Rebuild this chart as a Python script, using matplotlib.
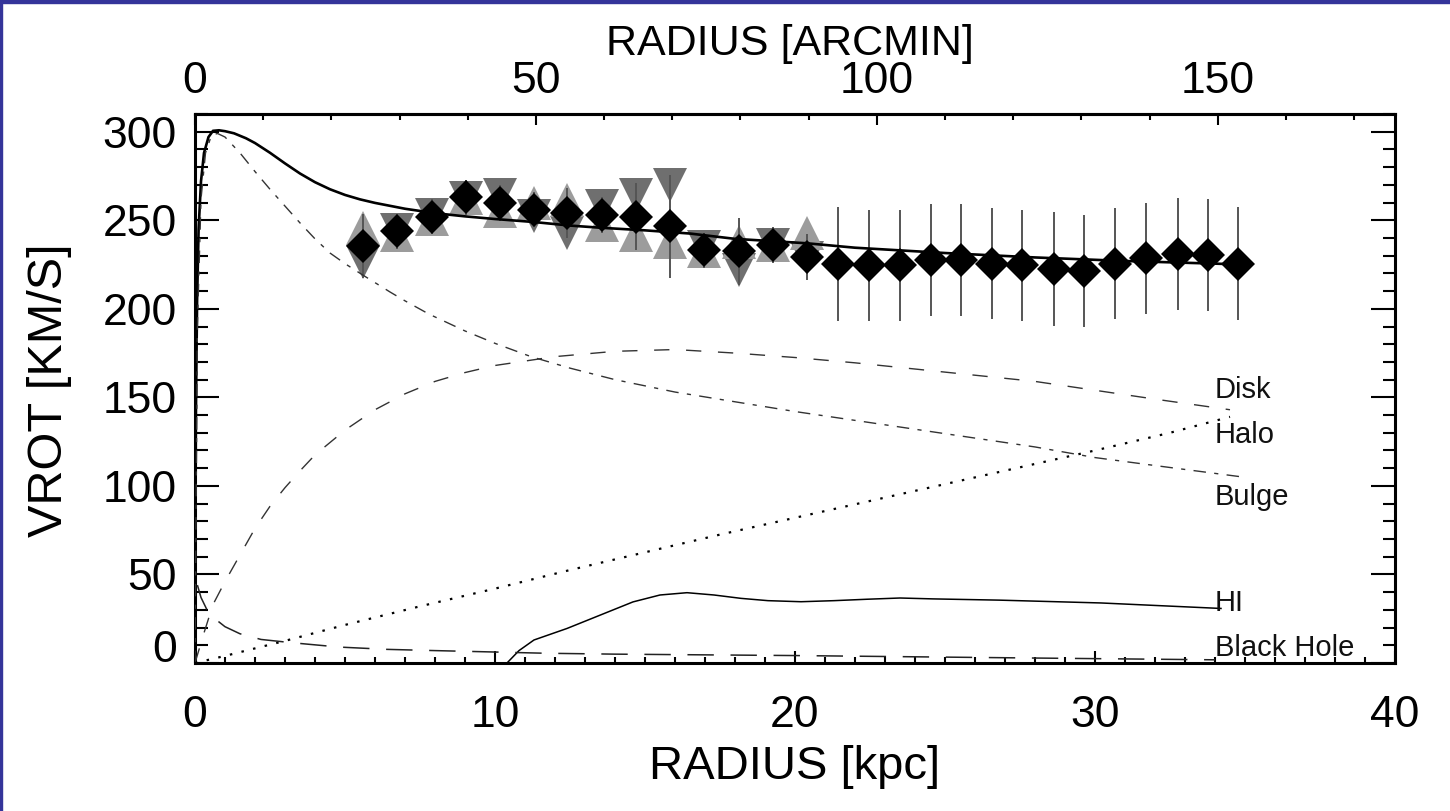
import matplotlib
matplotlib.use("Agg")
import matplotlib.pyplot as plt
from matplotlib.ticker import MultipleLocator, FixedLocator
from matplotlib.patches import Rectangle

plt.rcParams['font.family'] = ['Liberation Sans', 'DejaVu Sans']
plt.rcParams['lines.scale_dashes'] = False

# ---------------- data ----------------
# inner data points (diamonds) with two-sided measurements (triangles)
inner_r = [5.61, 6.74, 7.89, 9.03, 10.17, 11.30, 12.41, 13.56, 14.70, 15.83, 16.97, 18.13, 19.26, 20.39]
inner_v = [235.6, 243.7, 252.0, 263.0, 259.7, 256.0, 254.0, 253.0, 252.0, 246.5, 233.0, 232.4, 236.0, 229.5]
inner_err = [18, 10, 10, 10, 10, 10, 14, 10, 19, 29, 10, 19, 10, 13]
tri_down_v = [226.7, 244.6, 252.7, 262.5, 264.4, 252.2, 242.8, 257.8, 264.4, 269.7, 235.0, 221.9, 236.0, 228.6]
tri_up_v = [245.6, 241.8, 250.8, 262.5, 255.0, 259.7, 261.6, 247.4, 241.8, 238.0, 232.6, 237.9, 236.0, 242.8]

# outer data points
outer_r = [21.44, 22.46, 23.50, 24.53, 25.53, 26.56, 27.57, 28.62, 29.63, 30.68, 31.69, 32.75, 33.76, 34.78]
outer_v = [225.5, 224.5, 224.5, 227.5, 227.5, 225.5, 224.5, 222.5, 221.5, 225.5, 228.5, 231.0, 230.5, 225.5]
outer_err = [32.2, 31.2, 31.2, 31.7, 31.7, 31.2, 31.5, 32.4, 31.7, 31.5, 31.4, 31.5, 31.7, 31.9]

# model curves
tot_r = [0, 0.03, 0.07, 0.12, 0.2, 0.3, 0.45, 0.6, 0.8, 1.0, 1.3, 1.7, 2.0, 2.5, 3.0, 3.5, 4.0, 4.5,
         5.0, 5.5, 6.0, 7.0, 8.0, 9.0, 10.0, 11.3, 12.5, 13.5, 15.0, 16.5, 18.0, 20.4, 22.0, 25.0, 28.0,
         31.0, 35.0]
tot_v = [0, 140, 205, 245, 272, 288, 297, 300.5, 300.8, 300.3, 299.1, 296.3, 293.6, 288.1, 282.1, 276.4,
         271.5, 267.5, 264.3, 261.8, 259.8, 256.5, 254.0, 252.2, 250.7, 249, 247, 245.8, 244.3, 242.5,
         239.5, 237, 234.5, 231.5, 229, 227, 225]

bulge_r = [0, 0.08, 0.2, 0.35, 0.55, 0.75, 1.0, 1.5, 2.0, 2.5, 3.0, 3.5, 4.0, 4.5, 5.0, 5.6, 6.5, 7.0, 7.8,
           9.0, 10.0, 11.2, 12.5, 14, 16, 18, 20, 22, 24, 26, 28, 30, 32, 34.8]
bulge_v = [0, 190, 262, 288, 298, 299, 297, 288, 277.5, 267.5, 258, 248.5, 239.5, 231.5, 225.5, 219, 209.5,
           204.5, 197, 187.5, 180.5, 173, 166.5, 160, 153, 147.5, 142, 137, 132, 127, 122, 116, 111.5, 105.3]

disk_r = [0, 0.3, 0.6, 1.0, 1.5, 2.0, 2.5, 3.0, 3.5, 4, 5, 6, 7, 8, 9, 10, 12, 14, 16, 18, 20, 22, 24, 26,
          28, 30, 32, 34.5]
disk_v = [0, 17, 33, 46, 61, 76, 88.5, 99, 108.5, 117.5, 131.5, 143, 152, 159, 164, 168, 173, 176, 177, 175,
          172.5, 169.5, 166, 162.5, 159, 154, 149, 143]

halo_r = [0, 1, 3, 5, 7.5, 10, 12.5, 15, 17.5, 20, 22.5, 25, 27.5, 30, 32.5, 34.5]
halo_v = [0, 4, 12.5, 21.5, 32, 42, 52.5, 62.5, 72.5, 82, 91.5, 101, 110.5, 120, 130, 139]

hi_r = [10.4, 10.8, 11.3, 12.4, 13.5, 14.6, 15.5, 16.4, 17.3, 18.2, 19.1, 20.2, 21.3, 22.4, 23.5, 24.6,
        26.8, 28.5, 30.2, 32, 34.2]
hi_v = [0, 7, 13, 19.5, 27, 34.5, 38.4, 39.7, 38.4, 36.5, 35.2, 34.6, 35.2, 36, 36.7, 36.2, 35.5, 34.7,
        33.9, 32.5, 30.8]

bh_r = [0.08, 0.2, 0.4, 0.7, 1.0, 1.5, 2.2, 3.2, 4.8, 6.4, 8, 9.5, 11.7, 14, 17, 20, 24, 28, 31, 34]
bh_v = [44, 37, 30, 24.5, 20.5, 16.5, 13.3, 11.5, 9, 7.7, 7, 6.4, 5.5, 5, 4.6, 4.2, 3.5, 2.8, 2.3, 1.8]

labels = ['Disk', 'Halo', 'Bulge', 'HI', 'Black Hole']
label_v = [149.5, 124.5, 89.3, 29.5, 4.0]
label_r = 34.0

xticks = [0, 10, 20, 30, 40]
yticks = [0, 50, 100, 150, 200, 250, 300]
top_ticks = [0, 50, 100, 150]
ARCMIN_PER_KPC = 4.40

# ---------------- figure ----------------
W, H = 1450, 811
fig = plt.figure(figsize=(W / 100, H / 100), dpi=100)
fig.patches.append(Rectangle((0, 1 - 3 / H), 1, 3 / H, transform=fig.transFigure,
                             color='#34349a', zorder=0))
fig.patches.append(Rectangle((0, 0), 1.5 / W, 1, transform=fig.transFigure,
                             color='#34349a', zorder=0))

ax = fig.add_axes([195 / W, (H - 663) / H, 1200 / W, 549 / H])
ax.set_xlim(0, 40)
ax.set_ylim(0, 310)

# triangles (two sides)
ax.plot(inner_r, tri_down_v, linestyle='none', marker='v', markersize=24,
        color='#6f6f6f', markeredgewidth=0, zorder=2)
ax.plot(inner_r, tri_up_v, linestyle='none', marker='^', markersize=24,
        color='#9c9c9c', markeredgewidth=0, zorder=2)

# error bars
ax.errorbar(inner_r, inner_v, yerr=inner_err, fmt='none', ecolor='#555555',
            elinewidth=1.4, capsize=0, zorder=3)
ax.errorbar(outer_r, outer_v, yerr=outer_err, fmt='none', ecolor='#555555',
            elinewidth=1.4, capsize=0, zorder=3)

# model curves
ax.plot(tot_r, tot_v, color='black', lw=1.9, zorder=4, solid_joinstyle='round')
ax.plot(bulge_r, bulge_v, color='#333333', lw=1.0, dashes=(9, 6, 3, 6), zorder=4)
ax.plot(disk_r, disk_v, color='#333333', lw=1.0, dashes=(11, 12), zorder=4)
ax.plot(halo_r, halo_v, color='black', lw=1.6, dashes=(1.8, 6.8), zorder=4)
ax.plot(hi_r, hi_v, color='black', lw=1.1, zorder=4)
ax.plot(bh_r, bh_v, color='#222222', lw=1.1, dashes=(19, 12), zorder=4)

# diamonds
ax.plot(inner_r + outer_r, inner_v + outer_v, linestyle='none', marker='D',
        markersize=17.5, color='black', markeredgewidth=0, zorder=5)

# curve labels
for t, v in zip(labels, label_v):
    ax.text(label_r, v, t, fontsize=21, ha='left', va='baseline', color='#111111', zorder=6)

# ---------------- axes styling ----------------
for s in ax.spines.values():
    s.set_linewidth(2.2)

ax.xaxis.set_major_locator(FixedLocator(xticks))
ax.xaxis.set_minor_locator(MultipleLocator(1))
ax.yaxis.set_major_locator(FixedLocator(yticks))
ax.yaxis.set_minor_locator(MultipleLocator(10))
ax.set_yticklabels([''] + [str(v) for v in yticks[1:]])
ax.set_xticklabels([str(v) for v in xticks])

ax.tick_params(axis='x', which='major', direction='in', length=9, width=1.5,
               labelsize=32, pad=23, top=False)
ax.tick_params(axis='x', which='minor', direction='in', length=4.5, width=1.5, top=False)
ax.tick_params(axis='y', which='major', direction='in', length=17, width=1.5,
               labelsize=32, pad=13, right=True)
ax.tick_params(axis='y', which='minor', direction='in', length=9, width=1.5, right=True)

# shifted "0" label on the y axis as in the original
ax.annotate('0', xy=(0, 0), xycoords=('axes fraction', 'data'), xytext=(-18, 12),
            textcoords='offset pixels', ha='right', va='center', fontsize=32)

sec = ax.secondary_xaxis('top', functions=(lambda k: k * ARCMIN_PER_KPC,
                                            lambda a: a / ARCMIN_PER_KPC))
sec.xaxis.set_major_locator(FixedLocator(top_ticks))
sec.xaxis.set_minor_locator(MultipleLocator(10))
sec.set_xticklabels([str(v) for v in top_ticks])
sec.tick_params(axis='x', which='major', direction='in', length=8, width=1.5,
                labelsize=32, pad=8.5)
sec.tick_params(axis='x', which='minor', direction='in', length=4.5, width=1.5)
sec.spines['top'].set_linewidth(2.2)

# axis titles
fig.text(790 / W, 1 - 55 / H, 'RADIUS [ARCMIN]', fontsize=31, ha='center', va='baseline')
fig.text(795 / W, 1 - 779 / H, 'RADIUS [kpc]', fontsize=34, ha='center', va='baseline')
fig.text(50 / W, 1 - 390 / H, 'VROT [KM/S]', fontsize=35, ha='center', va='center',
         rotation=90)

fig.savefig('out.png', dpi=100)
